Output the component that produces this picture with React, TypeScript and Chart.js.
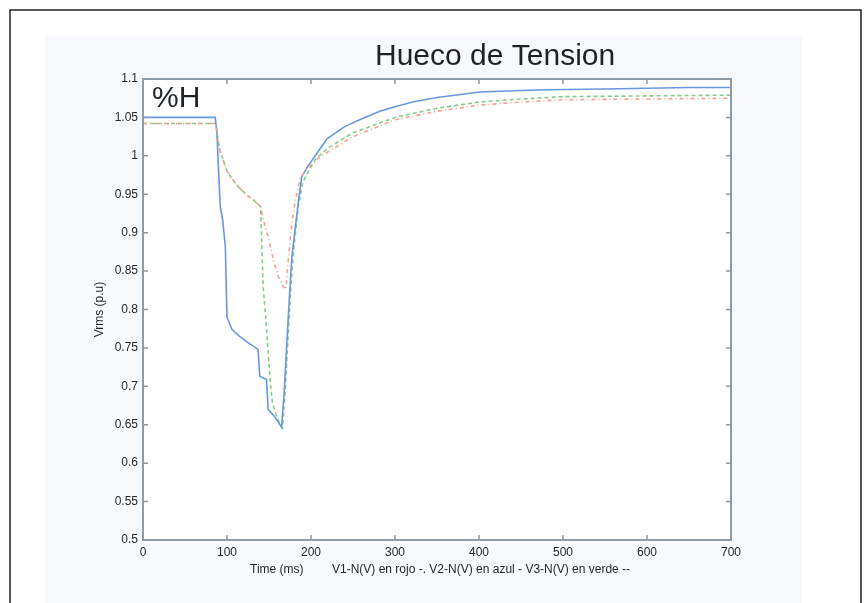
import { useEffect, useRef } from 'react';
import { Chart, registerables } from 'chart.js';

Chart.register(...registerables);

// ---- data (time in ms, voltage in p.u.) ----
const timeV1 = [0, 87, 89, 92, 95, 100, 106, 115, 125, 131, 140, 145, 149, 155, 161, 167, 170, 173, 177, 181, 187, 193, 200, 210, 220, 250, 300, 350, 400, 450, 500, 600, 700];
const voltV1 = [1.042, 1.042, 1.022, 1.005, 0.996, 0.98, 0.97, 0.958, 0.948, 0.943, 0.934, 0.91, 0.895, 0.865, 0.843, 0.83, 0.826, 0.865, 0.91, 0.94, 0.97, 0.98, 0.988, 0.998, 1.005, 1.025, 1.047, 1.058, 1.066, 1.07, 1.073, 1.074, 1.075];

const timeV2 = [0, 86, 88, 90, 92, 95, 98, 100, 106, 115, 125, 137, 139, 147, 149, 157, 165, 168, 171, 174, 177, 181, 185, 189, 196, 205, 219, 240, 260, 282, 300, 321, 350, 401, 450, 481, 550, 600, 650, 700];
const voltV2 = [1.05, 1.05, 1.03, 0.98, 0.934, 0.915, 0.882, 0.79, 0.774, 0.765, 0.757, 0.748, 0.713, 0.709, 0.67, 0.66, 0.647, 0.69, 0.752, 0.81, 0.865, 0.904, 0.94, 0.973, 0.986, 1.0, 1.022, 1.038, 1.048, 1.058, 1.064, 1.07, 1.076, 1.083, 1.085, 1.086, 1.087, 1.088, 1.089, 1.089];

const timeV3 = [0, 87, 89, 92, 95, 100, 106, 115, 125, 131, 140, 143, 146, 149, 152, 154, 158, 163, 166, 169, 172, 176, 180, 185, 190, 197, 205, 220, 250, 300, 350, 400, 450, 500, 600, 700];
const voltV3 = [1.042, 1.042, 1.022, 1.005, 0.996, 0.98, 0.97, 0.958, 0.948, 0.943, 0.934, 0.83, 0.79, 0.744, 0.7, 0.679, 0.665, 0.65, 0.646, 0.69, 0.75, 0.83, 0.885, 0.935, 0.965, 0.98, 0.995, 1.01, 1.03, 1.05, 1.062, 1.07, 1.074, 1.077, 1.078, 1.079];

const xTicks = [0, 100, 200, 300, 400, 500, 600, 700];
const yTicks = [0.5, 0.55, 0.6, 0.65, 0.7, 0.75, 0.8, 0.85, 0.9, 0.95, 1, 1.05, 1.1];

const titleText = 'Hueco de Tension';
const cornerLabel = '%H';
const yAxisLabel = 'Vrms (p.u)';
const xAxisLabel = 'Time (ms)';
const legendText = 'V1-N(V) en rojo -. V2-N(V) en azul - V3-N(V) en verde --';

const FONT = "'Liberation Sans', Arial, Helvetica, sans-serif";
const AXIS_COLOR = '#8f9ba6';
const TEXT_COLOR = '#1e2328';

const toPoints = (t: number[], v: number[]) => t.map((x, i) => ({ x, y: v[i] }));

const decorPlugin = {
  id: 'decor',
  beforeDraw(chart: any) {
    const { ctx, chartArea, width, height } = chart;
    ctx.save();
    ctx.fillStyle = '#ffffff';
    ctx.fillRect(0, 0, width, height);
    ctx.fillStyle = '#f8f9fc';
    ctx.fillRect(45, 35, 757, height - 35);
    ctx.fillStyle = '#ffffff';
    ctx.fillRect(chartArea.left, chartArea.top, chartArea.right - chartArea.left, chartArea.bottom - chartArea.top);
    // outer frame
    ctx.strokeStyle = '#222222';
    ctx.lineWidth = 1.5;
    ctx.beginPath();
    ctx.moveTo(10, height);
    ctx.lineTo(10, 10);
    ctx.lineTo(861, 10);
    ctx.lineTo(861, height);
    ctx.stroke();
    ctx.restore();
  },
  afterDraw(chart: any) {
    const { ctx, chartArea } = chart;
    const { left, right, top, bottom } = chartArea;
    const xs = chart.scales.x;
    const ys = chart.scales.y;
    ctx.save();
    ctx.strokeStyle = AXIS_COLOR;
    ctx.lineWidth = 2;
    ctx.strokeRect(left, top, right - left, bottom - top);
    ctx.lineWidth = 1.5;
    ctx.beginPath();
    const tl = 5;
    xTicks.forEach((t) => {
      const px = xs.getPixelForValue(t);
      ctx.moveTo(px, bottom);
      ctx.lineTo(px, bottom - tl);
      ctx.moveTo(px, top);
      ctx.lineTo(px, top + tl);
    });
    yTicks.forEach((v) => {
      const py = ys.getPixelForValue(v);
      ctx.moveTo(left, py);
      ctx.lineTo(left + tl, py);
      ctx.moveTo(right, py);
      ctx.lineTo(right - tl, py);
    });
    ctx.stroke();

    ctx.fillStyle = TEXT_COLOR;
    ctx.textBaseline = 'alphabetic';
    ctx.textAlign = 'left';
    ctx.font = `30px ${FONT}`;
    ctx.fillText(titleText, 375, 65);
    ctx.fillText(cornerLabel, left + 9, top + 28);

    ctx.font = `12px ${FONT}`;
    ctx.fillText(xAxisLabel, 250, 573);
    ctx.fillText(legendText, 332, 573);

    ctx.translate(103, (top + bottom) / 2);
    ctx.rotate(-Math.PI / 2);
    ctx.textAlign = 'center';
    ctx.fillText(yAxisLabel, 0, 0);
    ctx.restore();
  },
};

export default function App() {
  const canvasRef = useRef<HTMLCanvasElement | null>(null);

  useEffect(() => {
    const canvas = canvasRef.current;
    if (!canvas) return;
    const chart = new Chart(canvas, {
      type: 'line',
      data: {
        datasets: [
          {
            label: 'V1-N(V)',
            data: toPoints(timeV1, voltV1),
            borderColor: '#f2a48e',
            borderWidth: 1.6,
            borderDash: [4, 3, 1, 3],
            pointRadius: 0,
            tension: 0,
            fill: false,
          },
          {
            label: 'V2-N(V)',
            data: toPoints(timeV2, voltV2),
            borderColor: '#6a98e0',
            borderWidth: 1.6,
            pointRadius: 0,
            tension: 0,
            fill: false,
          },
          {
            label: 'V3-N(V)',
            data: toPoints(timeV3, voltV3),
            borderColor: '#86cc8a',
            borderWidth: 1.6,
            borderDash: [4, 3],
            pointRadius: 0,
            tension: 0,
            fill: false,
          },
        ],
      },
      options: {
        responsive: false,
        animation: false,
        events: [],
        layout: { padding: { left: 0, right: 136, top: 79, bottom: 0 } },
        plugins: {
          legend: { display: false },
          title: { display: false },
          tooltip: { enabled: false },
        },
        scales: {
          x: {
            type: 'linear',
            min: 0,
            max: 700,
            grid: { display: false, drawTicks: false },
            border: { display: false },
            ticks: {
              font: { family: FONT, size: 12 },
              color: TEXT_COLOR,
              padding: 5,
              maxRotation: 0,
              callback: (v: any) => String(v),
            },
            afterBuildTicks: (scale: any) => {
              scale.ticks = xTicks.map((v) => ({ value: v }));
            },
            afterFit: (scale: any) => {
              scale.height = 63;
            },
          },
          y: {
            type: 'linear',
            min: 0.5,
            max: 1.1,
            grid: { display: false, drawTicks: false },
            border: { display: false },
            ticks: {
              font: { family: FONT, size: 12 },
              color: TEXT_COLOR,
              padding: 5,
              callback: (v: any) => String(parseFloat(Number(v).toFixed(2))),
            },
            afterBuildTicks: (scale: any) => {
              scale.ticks = yTicks.map((v) => ({ value: v }));
            },
            afterFit: (scale: any) => {
              scale.width = 143;
            },
          },
        },
      },
      plugins: [decorPlugin],
    });
    return () => chart.destroy();
  }, []);

  return (
    <div style={{ position: 'fixed', left: 0, top: 0, width: 867, height: 603 }}>
      <canvas ref={canvasRef} width={867} height={603} style={{ display: 'block', width: 867, height: 603 }} />
    </div>
  );
}
